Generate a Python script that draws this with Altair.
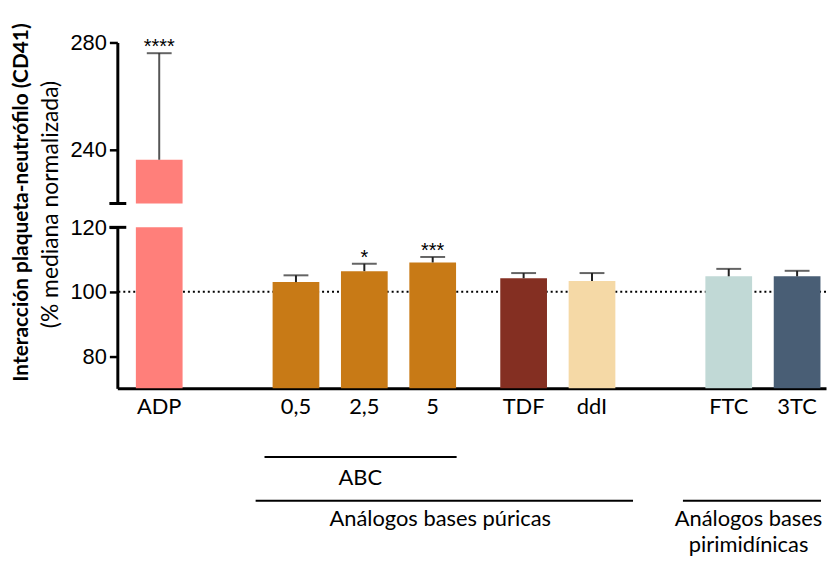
import altair as alt
import pandas as pd

# ---- data ----
categories = ["ADP", "0,5", "2,5", "5", "TDF", "ddI", "FTC", "3TC"]
means = [236.3, 103.0, 106.4, 109.1, 104.2, 103.3, 104.8, 104.8]
err_top = [276.0, 105.1, 108.7, 110.8, 105.8, 105.8, 107.1, 106.5]
stars = ["****", "", "*", "***", "", "", "", ""]
colors = ["#FF7F7A", "#C87A16", "#C87A16", "#C87A16", "#842F22", "#F5D9A6", "#C1D9D6", "#495E75"]
slots = [0, 2, 3, 4, 5.33, 6.33, 8.33, 9.33]

group_labels = ["ABC", "Análogos bases púricas", "Análogos bases\npirimidínicas"]
group_from = [1.54, 1.41, 7.66]
group_to = [4.35, 6.93, 9.68]
group_text_at = [2.94, 4.11, 8.62]
group_level = [0, 1, 1]

lower_ticks = [80, 100, 120]
upper_ticks = [240, 280]
lower_domain = [70, 120]
upper_domain = [220, 280]
reference_value = 100

y_title_main = "Interacción plaqueta-neutrófilo (CD41)"
y_title_sub = "(% mediana normalizada)"

# ---- tables ----
df = pd.DataFrame({"cat": categories, "mean": means, "err": err_top,
                   "stars": stars, "pos": slots})
gdf = pd.DataFrame({"label": group_labels, "x1": group_from, "x2": group_to,
                    "mid": group_text_at, "level": group_level})
tdf = pd.DataFrame({"t": [y_title_main]})
sdf = pd.DataFrame({"t": [y_title_sub]})
one = pd.DataFrame({"k": [0]})

W, H = 713, 162
X_DOMAIN = [-0.54, 9.68]
TXT = "Lato"

xs = alt.Scale(domain=X_DOMAIN, nice=False, zero=False)
color = alt.Color("cat:N", scale=alt.Scale(domain=categories, range=colors), legend=None)

# ---- upper panel (220-280) ----
ys_u = alt.Scale(domain=upper_domain, nice=False, zero=False)
base_u = alt.Chart(df).transform_filter("datum.mean > 120")
bars_u = base_u.mark_bar(size=47, clip=True).encode(
    x=alt.X("pos:Q", scale=xs, axis=None),
    y=alt.Y("mean:Q", scale=ys_u, axis=alt.Axis(values=upper_ticks, title=None)),
    color=color,
)
err_u = base_u.mark_rule(color="#555555", strokeWidth=2).encode(
    x="pos:Q", y="mean:Q", y2="err:Q")
cap_u = base_u.mark_tick(orient="horizontal", size=25, thickness=2, color="#222222").encode(
    x="pos:Q", y="err:Q")
star_u = base_u.mark_text(font="Liberation Sans", fontSize=20, baseline="alphabetic", dy=0,
                          color="black").encode(x="pos:Q", y="err:Q", text="stars:N")
brk_u = alt.Chart(one).mark_rule(strokeWidth=3, color="black").encode(
    x=alt.value(-8), x2=alt.value(9), y=alt.value(H))
upper = alt.layer(bars_u, err_u, cap_u, star_u, brk_u).properties(width=W, height=H)

# ---- lower panel (70-120) ----
ys_l = alt.Scale(domain=lower_domain, nice=False, zero=False)
base_l = alt.Chart(df)
small = base_l.transform_filter("datum.mean <= 120")
dotted = alt.Chart(one).mark_rule(strokeDash=[2, 3], strokeWidth=2, color="black").encode(
    y=alt.datum(reference_value, scale=ys_l))
bars_l = base_l.mark_bar(size=47, clip=True).encode(
    x=alt.X("pos:Q", scale=xs,
            axis=alt.Axis(domain=True, ticks=False, labels=False, title=None)),
    y=alt.Y("mean:Q", scale=ys_l, axis=alt.Axis(values=lower_ticks, title=None)),
    color=color,
)
err_l = small.mark_rule(color="#222222", strokeWidth=2).encode(
    x="pos:Q", y="mean:Q", y2="err:Q")
cap_l = small.mark_tick(orient="horizontal", size=25, thickness=2, color="#222222").encode(
    x="pos:Q", y="err:Q")
star_l = small.mark_text(font="Liberation Sans", fontSize=20, baseline="alphabetic", dy=0,
                         color="black").encode(x="pos:Q", y="err:Q", text="stars:N")
xlab = base_l.mark_text(font=TXT, fontSize=22, baseline="middle", color="black").encode(
    x="pos:Q", y=alt.value(181), text="cat:N")
brk_l = alt.Chart(one).mark_rule(strokeWidth=3, color="black").encode(
    x=alt.value(-8), x2=alt.value(9), y=alt.value(0))

g0 = alt.Chart(gdf).transform_filter("datum.level == 0")
g1 = alt.Chart(gdf).transform_filter("datum.level == 1")
line0 = g0.mark_rule(strokeWidth=2, color="black").encode(
    x="x1:Q", x2="x2:Q", y=alt.value(231))
line1 = g1.mark_rule(strokeWidth=2, color="black").encode(
    x="x1:Q", x2="x2:Q", y=alt.value(275))
text0 = g0.mark_text(font=TXT, fontSize=22, baseline="middle", color="black").encode(
    x="mid:Q", y=alt.value(252), text="label:N")
text1 = g1.mark_text(font=TXT, fontSize=22, baseline="top", lineBreak="\n", lineHeight=27,
                     color="black").encode(x="mid:Q", y=alt.value(283), text="label:N")

title_main = alt.Chart(tdf).mark_text(font=TXT, fontSize=21, fontWeight="bold", angle=270,
                                      baseline="middle", align="center", color="black").encode(
    x=alt.value(-96), y=alt.value(-25), text="t:N")
title_sub = alt.Chart(sdf).mark_text(font=TXT, fontSize=23, angle=270,
                                     baseline="middle", align="center", color="black").encode(
    x=alt.value(-67), y=alt.value(-23), text="t:N")
# invisible anchor fixing the top-left corner of the drawing
anchor = alt.Chart(one).mark_rule(strokeWidth=1, color="white").encode(
    x=alt.value(-109), x2=alt.value(-108), y=alt.value(-218), y2=alt.value(-217))

lower = alt.layer(dotted, bars_l, err_l, cap_l, star_l, xlab, brk_l,
                  line0, line1, text0, text1, title_main, title_sub, anchor
                  ).properties(width=W, height=H)

chart = alt.vconcat(upper, lower, spacing=24, bounds="flush").properties(
    padding={"left": 0, "top": 0, "right": 0, "bottom": 0}
).configure_view(stroke=None).configure_axis(
    domainColor="black", domainWidth=3, tickColor="black", tickWidth=2.5, tickSize=8,
    labelFont="Liberation Sans", labelFontSize=22, labelColor="black", labelPadding=3,
    grid=False,
)

chart.save("out.html", embed_options={"renderer": "svg", "actions": False})
